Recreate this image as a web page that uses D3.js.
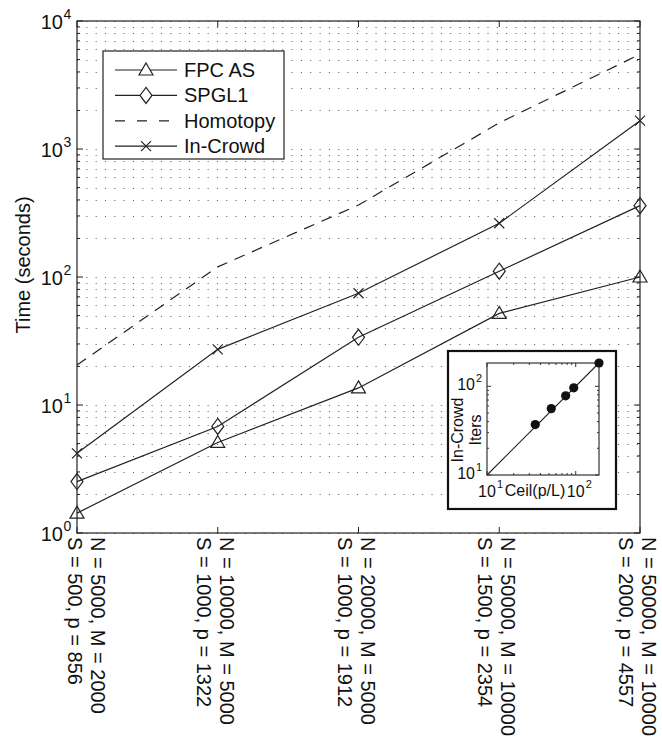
<!DOCTYPE html>
<html>
<head>
<meta charset="utf-8">
<script src="https://cdn.jsdelivr.net/npm/d3@7"></script>
<style>
  body { margin: 0; background: #fff; }
  text { font-family: "Liberation Sans", Arial, Helvetica, sans-serif; fill: #111; }
</style>
</head>
<body>
<div id="chart-area"></div>
<script>
// problem sizes (two-line tick labels)
var labelsTop = ["N = 5000, M = 2000", "N = 10000, M = 5000", "N = 20000, M = 5000",
                 "N = 50000, M = 10000", "N = 50000, M = 10000"];
var labelsBottom = ["S = 500, p = 856", "S = 1000, p = 1322", "S = 1000, p = 1912",
                    "S = 1500, p = 2354", "S = 2000, p = 4557"];

// run times in seconds
var fpcAS    = [1.43, 5.1, 13.6, 52, 100];
var spgl1    = [2.52, 6.8, 33.8, 111, 361];
var homotopy = [20.5, 120, 365, 1600, 5500];
var inCrowd  = [4.19, 27.2, 74.6, 263, 1664];

var seriesNames = ["FPC AS", "SPGL1", "Homotopy", "In-Crowd"];
var yTickValues = [1, 10, 100, 1000, 10000];

// inset: In-Crowd iterations vs ceil(p/L)
var ceilPL = [35, 53, 77, 95, 183];
var iters  = [37, 56, 78, 96, 183];
var diagLine = [10, 183];
var insetTicks = [10, 100];

var svgW = 662, svgH = 745;
var margin = { top: 21, right: 22, bottom: 212, left: 77 };
var width = svgW - margin.left - margin.right;
var height = svgH - margin.top - margin.bottom;

var svg = d3.select("#chart-area").append("svg")
    .attr("width", svgW)
    .attr("height", svgH);

var g = svg.append("g")
    .attr("transform", "translate(" + margin.left + "," + margin.top + ")");

var x = d3.scalePoint()
    .domain(d3.range(labelsTop.length))
    .range([0, width]);

var y = d3.scaleLog()
    .domain([1, 10000])
    .range([height, 0]);

// dotted grid at every log tick
g.append("g").selectAll("line")
    .data(y.ticks())
    .enter().append("line")
        .attr("x1", 0).attr("x2", width)
        .attr("y1", d => Math.round(y(d)) + 0.5)
        .attr("y2", d => Math.round(y(d)) + 0.5)
        .attr("stroke", "#555")
        .attr("stroke-width", 1)
        .attr("stroke-dasharray", "1,8.33");

// frame
g.append("rect")
    .attr("width", width).attr("height", height)
    .attr("fill", "none")
    .attr("stroke", "#222")
    .attr("stroke-width", 1.2);

// y ticks, left and right, pointing inward
var yAxisL = d3.axisRight(y).tickValues(y.ticks()).tickSize(0).tickFormat("");
var ticksL = g.append("g").selectAll("line").data(y.ticks()).enter();
ticksL.append("line")
    .attr("x1", 0).attr("x2", d => yTickValues.includes(d) ? 6 : 3)
    .attr("y1", d => y(d)).attr("y2", d => y(d))
    .attr("stroke", "#222");
ticksL.append("line")
    .attr("x1", width).attr("x2", d => width - (yTickValues.includes(d) ? 6 : 3))
    .attr("y1", d => y(d)).attr("y2", d => y(d))
    .attr("stroke", "#222");

// x ticks top and bottom
var xt = g.append("g").selectAll("g").data(x.domain()).enter();
xt.append("line")
    .attr("x1", d => x(d)).attr("x2", d => x(d))
    .attr("y1", height).attr("y2", height - 6)
    .attr("stroke", "#222");
xt.append("line")
    .attr("x1", d => x(d)).attr("x2", d => x(d))
    .attr("y1", 0).attr("y2", 6)
    .attr("stroke", "#222");

// y tick labels 10^k
var yl = g.append("g").selectAll("g").data(yTickValues).enter().append("g")
    .attr("transform", d => "translate(0," + y(d) + ")");
yl.append("text")
    .attr("x", -14).attr("y", 8)
    .attr("text-anchor", "end")
    .style("font-size", "20px")
    .text("10");
yl.append("text")
    .attr("x", -13.5).attr("y", -2)
    .style("font-size", "14px")
    .text(d => Math.round(Math.log10(d)));

// y axis title
svg.append("text")
    .attr("transform", "translate(30," + 265 + ") rotate(-90)")
    .attr("text-anchor", "middle")
    .style("font-size", "20px")
    .text("Time (seconds)");

// x tick labels, rotated, two lines
var xl = g.append("g").selectAll("g").data(x.domain()).enter().append("g")
    .attr("transform", d => "translate(" + Math.max(x(d) - 2, 10) + "," + (height + 4) + ") rotate(90)");
xl.append("text")
    .attr("x", 0).attr("y", -4)
    .style("font-size", "20px")
    .text(d => labelsTop[d]);
xl.append("text")
    .attr("x", 0).attr("y", 19)
    .style("font-size", "20px")
    .text(d => labelsBottom[d]);

// marker shapes
function markerPath(type) {
    if (type === "tri") return "M0,-7L7,5L-7,5Z";
    if (type === "dia") return "M0,-8L6,0L0,8L-6,0Z";
    if (type === "x") return "M-5,-5L5,5M-5,5L5,-5";
    return "";
}

var series = [
    { name: seriesNames[0], values: fpcAS, marker: "tri", dash: null },
    { name: seriesNames[1], values: spgl1, marker: "dia", dash: null },
    { name: seriesNames[2], values: homotopy, marker: null, dash: "11,8" },
    { name: seriesNames[3], values: inCrowd, marker: "x", dash: null }
];

var line = d3.line()
    .x((d, i) => x(i))
    .y(d => y(d));

series.forEach(s => {
    g.append("path")
        .datum(s.values)
        .attr("d", line)
        .attr("fill", "none")
        .attr("stroke", "#222")
        .attr("stroke-width", 1.2)
        .attr("stroke-dasharray", s.dash);
    if (s.marker) {
        g.append("g").selectAll("path")
            .data(s.values)
            .enter().append("path")
                .attr("transform", (d, i) => "translate(" + x(i) + "," + y(d) + ")")
                .attr("d", markerPath(s.marker))
                .attr("fill", "none")
                .attr("stroke", "#222")
                .attr("stroke-width", 1.2);
    }
});

// legend
var lg = svg.append("g").attr("transform", "translate(103,51)");
lg.append("rect")
    .attr("width", 181).attr("height", 108)
    .attr("fill", "#fff")
    .attr("stroke", "#222")
    .attr("stroke-width", 1.2);
var li = lg.selectAll("g.item").data(series).enter().append("g")
    .attr("class", "item")
    .attr("transform", (d, i) => "translate(0," + (19 + i * 25.4) + ")");
li.append("line")
    .attr("x1", 12).attr("x2", 74)
    .attr("stroke", "#222")
    .attr("stroke-width", 1.2)
    .attr("stroke-dasharray", d => d.dash ? "10,12" : null);
li.append("path")
    .attr("transform", "translate(43,0)")
    .attr("d", d => markerPath(d.marker))
    .attr("fill", "#fff")
    .attr("stroke", "#222")
    .attr("stroke-width", 1.2);
li.append("text")
    .attr("x", 81).attr("y", 7)
    .style("font-size", "20px")
    .text(d => d.name);

// inset
var inset = svg.append("g").attr("transform", "translate(448,351)");
inset.append("rect")
    .attr("width", 168).attr("height", 158)
    .attr("fill", "#fff")
    .attr("stroke", "#111")
    .attr("stroke-width", 2.2);

var ia = inset.append("g").attr("transform", "translate(39,12)");
var isz = 112;
var ix = d3.scaleLog().domain([10, d3.max(ceilPL)]).range([0, isz]);
var iy = d3.scaleLog().domain([10, d3.max(iters)]).range([isz, 0]);

ia.append("rect")
    .attr("width", isz).attr("height", isz)
    .attr("fill", "none")
    .attr("stroke", "#333")
    .attr("stroke-width", 1.2);

// inset ticks
var iminor = ix.ticks();
ia.append("g").selectAll("line").data(iminor).enter().append("line")
    .attr("x1", d => ix(d)).attr("x2", d => ix(d))
    .attr("y1", isz).attr("y2", d => isz - (insetTicks.includes(d) ? 4 : 2))
    .attr("stroke", "#333");
ia.append("g").selectAll("line").data(iminor).enter().append("line")
    .attr("x1", d => ix(d)).attr("x2", d => ix(d))
    .attr("y1", 0).attr("y2", d => (insetTicks.includes(d) ? 4 : 2))
    .attr("stroke", "#333");
ia.append("g").selectAll("line").data(iy.ticks()).enter().append("line")
    .attr("y1", d => iy(d)).attr("y2", d => iy(d))
    .attr("x1", 0).attr("x2", d => (insetTicks.includes(d) ? 4 : 2))
    .attr("stroke", "#333");
ia.append("g").selectAll("line").data(iy.ticks()).enter().append("line")
    .attr("y1", d => iy(d)).attr("y2", d => iy(d))
    .attr("x1", isz).attr("x2", d => isz - (insetTicks.includes(d) ? 4 : 2))
    .attr("stroke", "#333");

// inset tick labels
var iyl = ia.selectAll("g.iyl").data(insetTicks).enter().append("g")
    .attr("class", "iyl")
    .attr("transform", d => "translate(0," + iy(d) + ")");
iyl.append("text").attr("x", -12).attr("y", 4)
    .attr("text-anchor", "end").style("font-size", "16px").text("10");
iyl.append("text").attr("x", -11).attr("y", -4)
    .style("font-size", "11px").text(d => Math.round(Math.log10(d)));

var ixl = ia.selectAll("g.ixl").data(insetTicks).enter().append("g")
    .attr("class", "ixl")
    .attr("transform", d => "translate(" + ix(d) + "," + (isz + 22) + ")");
ixl.append("text").attr("x", 0).attr("y", 0)
    .attr("text-anchor", "middle").style("font-size", "16px").text("10");
ixl.append("text").attr("x", 10).attr("y", -9)
    .style("font-size", "11px").text(d => Math.round(Math.log10(d)));

ia.append("text")
    .attr("x", 48).attr("y", isz + 21)
    .attr("text-anchor", "middle")
    .style("font-size", "16px")
    .text("Ceil(p/L)");

var ylab = ia.append("g").attr("transform", "translate(-21,67) rotate(-90)");
ylab.append("text").attr("y", -3).attr("text-anchor", "middle")
    .style("font-size", "16px").text("In-Crowd");
ylab.append("text").attr("y", 15).attr("text-anchor", "middle")
    .style("font-size", "16px").text("Iters");

// inset diagonal and points
ia.append("path")
    .datum(diagLine)
    .attr("d", d3.line().x(d => ix(d)).y(d => iy(d)))
    .attr("stroke", "#222")
    .attr("stroke-width", 1.1)
    .attr("fill", "none");

ia.selectAll("circle").data(ceilPL).enter().append("circle")
    .attr("cx", d => ix(d))
    .attr("cy", (d, i) => iy(iters[i]))
    .attr("r", 4.6)
    .attr("fill", "#111");
</script>
</body>
</html>
